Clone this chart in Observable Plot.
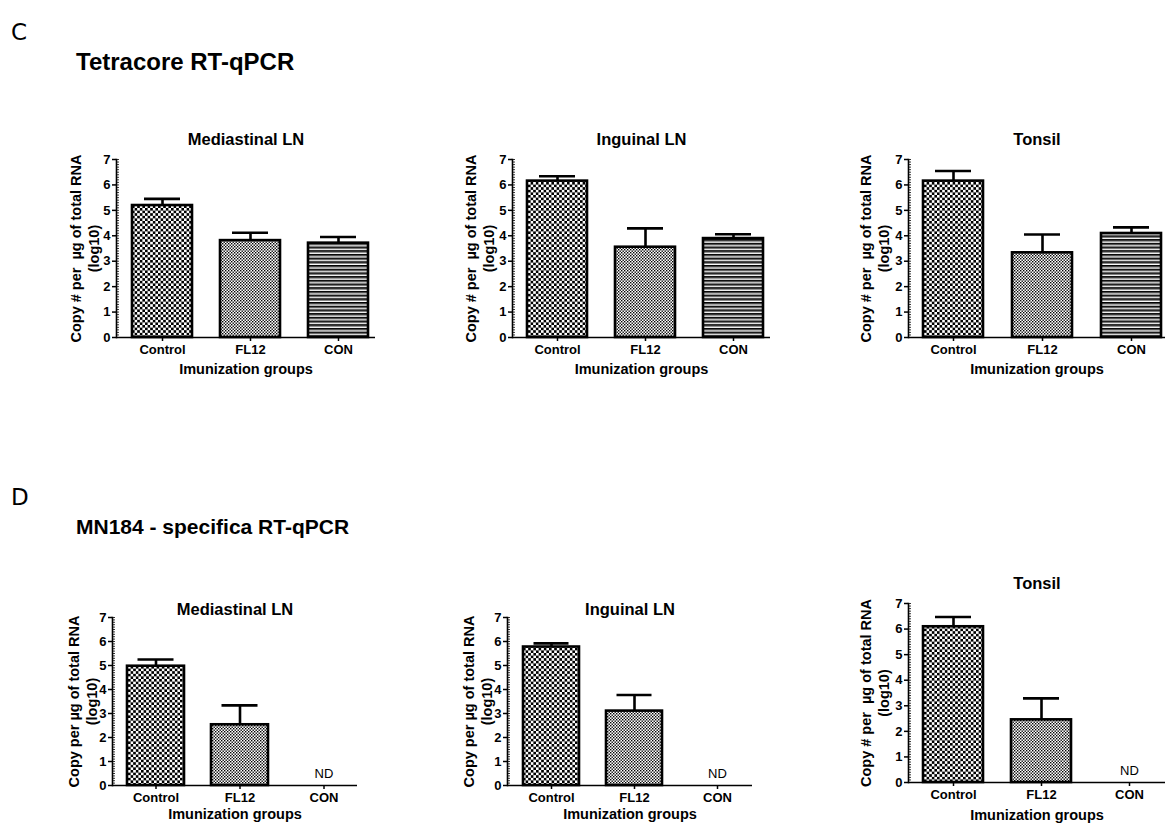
<!DOCTYPE html>
<html><head><meta charset="utf-8">
<script src="https://cdn.jsdelivr.net/npm/d3@7"></script>
<script src="https://cdn.jsdelivr.net/npm/@observablehq/plot@0.6"></script>
<style>
html,body{margin:0;padding:0;background:#fff;}
body{width:1169px;height:826px;position:relative;overflow:hidden;font-family:"Liberation Sans",Arial,sans-serif;color:#000;}
.abs{position:absolute;white-space:nowrap;line-height:1;}
.letter{font-size:23px;font-family:"DejaVu Sans","Liberation Sans",sans-serif;}
.heading{font-weight:bold;}
</style></head><body>
<svg width="0" height="0" style="position:absolute">
<defs>
<pattern id="pat-control" patternUnits="userSpaceOnUse" width="5.2" height="5.2">
<rect width="5.2" height="5.2" fill="#fff"/>
<rect x="0" y="0" width="2.6" height="2.6" fill="#000"/>
<rect x="2.6" y="2.6" width="2.6" height="2.6" fill="#000"/>
</pattern>
<pattern id="pat-fl12" patternUnits="userSpaceOnUse" width="3" height="3">
<rect width="3" height="3" fill="#fff"/>
<rect x="0" y="0" width="1.4" height="1.4" fill="#000"/>
<rect x="1.5" y="1.5" width="1.4" height="1.4" fill="#000"/>
</pattern>
<pattern id="pat-con" patternUnits="userSpaceOnUse" width="4" height="3.7">
<rect width="4" height="3.7" fill="#fff"/>
<rect x="0" y="0" width="4" height="1.7" fill="#000"/>
<rect x="0" y="1.7" width="4" height="1.0" fill="#8a8a8a"/>
</pattern>
</defs>
</svg>
<div class="abs letter" style="left:11px;top:21px;">C</div>
<div class="abs heading" style="left:76px;top:50px;font-size:24px;">Tetracore RT-qPCR</div>
<div class="abs letter" style="left:11px;top:486px;">D</div>
<div class="abs heading" style="left:76px;top:516px;font-size:21px;">MN184 - specifica RT-qPCR</div>
<script>
// ---- data ----
const groups = ["Control", "FL12", "CON"];
const tissues = ["Mediastinal LN", "Inguinal LN", "Tonsil"];
const yTicks = [0, 1, 2, 3, 4, 5, 6, 7];
const xTitle = "Imunization groups";
const yLabelHash = "Copy # per \u00a0\u00b5g of total RNA\n(log10)";
const yLabelNoHash = "Copy per \u00b5g of total RNA\n(log10)";
const ndLabel = "ND";

// Tetracore RT-qPCR (mean, SEM) per tissue, order = groups
const tetracoreMeans = [[5.19, 3.81, 3.71], [6.15, 3.55, 3.89], [6.15, 3.33, 4.09]];
const tetracoreSems  = [[0.26, 0.31, 0.24], [0.19, 0.74, 0.17], [0.40, 0.72, 0.24]];
// MN184-specific RT-qPCR (CON not detected)
const mn184Means = [[4.97, 2.53, null], [5.77, 3.10, null], [6.09, 2.45, null]];
const mn184Sems  = [[0.28, 0.81, null], [0.15, 0.67, null], [0.38, 0.84, null]];

const patternFill = {"Control": "url(#pat-control)", "FL12": "url(#pat-fl12)", "CON": "url(#pat-con)"};

// ---- layout (page pixels) ----
const layouts = [
  {axisX: 116, y7: 159, y0: 337, axisLen: 259, b0: 15, b1: 252, bw: 60, titleY: 133, xTitleDy: 36, ylabDx: -32},
  {axisX: 512, y7: 159, y0: 337, axisLen: 258, b0: 14, b1: 251, bw: 60, titleY: 133, xTitleDy: 36, ylabDx: -33},
  {axisX: 908, y7: 159, y0: 337, axisLen: 257, b0: 14, b1: 253, bw: 60, titleY: 133, xTitleDy: 36, ylabDx: -34},
  {axisX: 112, y7: 617, y0: 785, axisLen: 245, b0: 14, b1: 240, bw: 57, titleY: 603, xTitleDy: 33, ylabDx: -30},
  {axisX: 507, y7: 617, y0: 785, axisLen: 245, b0: 15, b1: 240, bw: 57, titleY: 603, xTitleDy: 33, ylabDx: -30},
  {axisX: 908, y7: 603, y0: 782, axisLen: 257, b0: 14, b1: 251, bw: 60, titleY: 577, xTitleDy: 37, ylabDx: -34}
];

const minorTicks = d3.range(0, 71).map(i => i / 10);

function panel(L, title, ylabel, means, sems) {
  const data = groups.map((g, i) => ({
    group: g,
    mean: means[i],
    top: means[i] == null ? null : means[i] + sems[i],
    fill: patternFill[g]
  }));
  const valid = data.filter(d => d.mean != null);
  const nd = data.filter(d => d.mean == null);
  const ml = 62, mr = 6, mt = 42, mb = 46;
  const plotH = L.y0 - L.y7;
  const width = ml + L.axisLen + mr;
  const height = mt + plotH + mb;
  const span = L.b1 - L.b0;
  const step = (span - L.bw) / 2;
  const pad = 1 - L.bw / step;
  const capInset = (L.bw - 36) / 2;
  const svg = Plot.plot({
    width, height,
    marginLeft: ml, marginRight: mr, marginTop: mt, marginBottom: mb,
    style: {fontFamily: "Liberation Sans, Arial, sans-serif", color: "#000", background: "transparent", overflow: "visible"},
    x: {type: "band", domain: groups, range: [ml + L.b0, ml + L.b1], paddingInner: pad, paddingOuter: 0, align: 0.5},
    y: {domain: [0, 7]},
    color: {type: "identity"},
    marks: [
      Plot.barY(valid, {x: "group", y: "mean", fill: "fill", stroke: "#000", strokeWidth: 2.6}),
      Plot.ruleX(valid, {x: "group", y1: "mean", y2: "top", stroke: "#000", strokeWidth: 2.6}),
      Plot.tickY(valid, {x: "group", y: "top", stroke: "#000", strokeWidth: 2.6, insetLeft: capInset, insetRight: capInset}),
      Plot.text(nd, {x: "group", y: 0, text: () => ndLabel, dy: -12, fontSize: 13}),
      Plot.ruleY([0], {stroke: "#000", strokeWidth: 1.6}),
      Plot.frame({anchor: "left", stroke: "#000", strokeWidth: 1.6}),
      Plot.axisY(yTicks, {tickSize: 4, tickPadding: 2, fontSize: 13, fontWeight: "bold", label: null, strokeWidth: 1.5}),
      Plot.axisY(minorTicks, {tickSize: 3, dx: 3, text: null, label: null, strokeWidth: 0.8}),
      Plot.axisX({tickSize: 4, tickPadding: 3, fontSize: 13, fontWeight: "bold", label: null, strokeWidth: 1.5}),
      Plot.text([xTitle], {frameAnchor: "bottom", dy: L.xTitleDy, fontSize: 14.5, fontWeight: "bold"}),
      Plot.text([title], {frameAnchor: "top", dy: -(L.y7 - L.titleY), fontSize: 16.5, fontWeight: "bold"}),
      Plot.text([ylabel], {frameAnchor: "left", textAnchor: "middle", lineAnchor: "middle", rotate: -90, dx: L.ylabDx, fontSize: 14.5, fontWeight: "bold", lineHeight: 1.25})
    ]
  });
  svg.style.position = "absolute";
  svg.style.left = (L.axisX - ml) + "px";
  svg.style.top = (L.y7 - mt) + "px";
  document.body.appendChild(svg);
}

tissues.forEach((t, i) => panel(layouts[i], t, yLabelHash, tetracoreMeans[i], tetracoreSems[i]));
tissues.forEach((t, i) => panel(layouts[3 + i], t, i === 2 ? yLabelHash : yLabelNoHash, mn184Means[i], mn184Sems[i]));
</script>
</body></html>
